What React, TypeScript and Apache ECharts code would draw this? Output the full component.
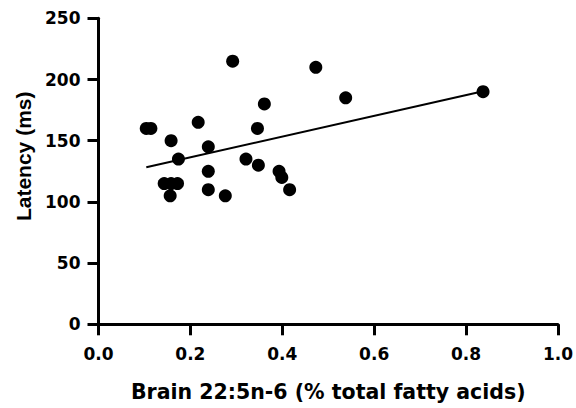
import React, { useEffect, useRef } from "react";
import * as echarts from "echarts";

// Brain 22:5n-6 (% total fatty acids)
const brainDPA: number[] = [
  0.104, 0.114, 0.158, 0.174, 0.217, 0.239, 0.239, 0.292, 0.321, 0.346, 0.361, 0.348,
  0.393, 0.399, 0.416, 0.143, 0.158, 0.172, 0.156, 0.239, 0.276, 0.473, 0.538, 0.837,
];
// Latency (ms)
const latency: number[] = [
  160, 160, 150, 135, 165, 145, 125, 215, 135, 160, 180, 130,
  125, 120, 110, 115, 115, 115, 105, 110, 105, 210, 185, 190,
];
// Fitted regression line end points
const fitX: number[] = [0.104, 0.837];
const fitY: number[] = [128.3, 190.4];

const xTicks: number[] = [0, 0.2, 0.4, 0.6, 0.8, 1.0];
const yTicks: number[] = [0, 50, 100, 150, 200, 250];

export default function App() {
  const ref = useRef<HTMLDivElement>(null);

  useEffect(() => {
    document.body.style.margin = "0";
    if (!ref.current) return;
    const chart = echarts.init(ref.current, null, { renderer: "svg" });
    const axisFont = {
      fontFamily: "DejaVu Sans",
      fontWeight: "bold" as const,
      fontSize: 17,
      color: "#000",
    };
    chart.setOption({
      animation: false,
      backgroundColor: "#fff",
      grid: { left: 98.5, right: 16.5, top: 18.3, bottom: 83.7, containLabel: false },
      xAxis: {
        type: "value",
        min: xTicks[0],
        max: xTicks[xTicks.length - 1],
        interval: 0.2,
        name: "Brain 22:5n-6 (% total fatty acids)",
        nameLocation: "middle",
        nameGap: 57,
        nameTextStyle: {
          fontFamily: "DejaVu Sans",
          fontWeight: "bold",
          fontSize: 20.5,
          color: "#000",
        },
        axisLine: { show: true, lineStyle: { color: "#000", width: 3 } },
        axisTick: { show: true, length: 11, lineStyle: { color: "#000", width: 3 } },
        axisLabel: {
          ...axisFont,
          margin: 21,
          formatter: (v: number) => v.toFixed(1),
        },
        splitLine: { show: false },
      },
      yAxis: {
        type: "value",
        min: yTicks[0],
        max: yTicks[yTicks.length - 1],
        interval: 50,
        name: "Latency (ms)",
        nameLocation: "middle",
        nameGap: 64,
        nameTextStyle: {
          fontFamily: "Liberation Sans",
          fontWeight: "bold",
          fontSize: 21,
          color: "#000",
          padding: [0, 0, 0, 30],
        },
        axisLine: { show: true, lineStyle: { color: "#000", width: 3 } },
        axisTick: { show: true, length: 11, lineStyle: { color: "#000", width: 3 } },
        axisLabel: { ...axisFont, margin: 18 },
        splitLine: { show: false },
      },
      series: [
        {
          type: "line",
          data: fitX.map((x, i) => [x, fitY[i]]),
          showSymbol: false,
          symbol: "none",
          lineStyle: { color: "#000", width: 2 },
          z: 2,
          silent: true,
        },
        {
          type: "scatter",
          data: brainDPA.map((x, i) => [x, latency[i]]),
          symbol: "circle",
          symbolSize: 13,
          itemStyle: { color: "#000", opacity: 1 },
          z: 3,
        },
      ],
    });
    return () => chart.dispose();
  }, []);

  return <div ref={ref} style={{ width: 576, height: 408 }} />;
}
